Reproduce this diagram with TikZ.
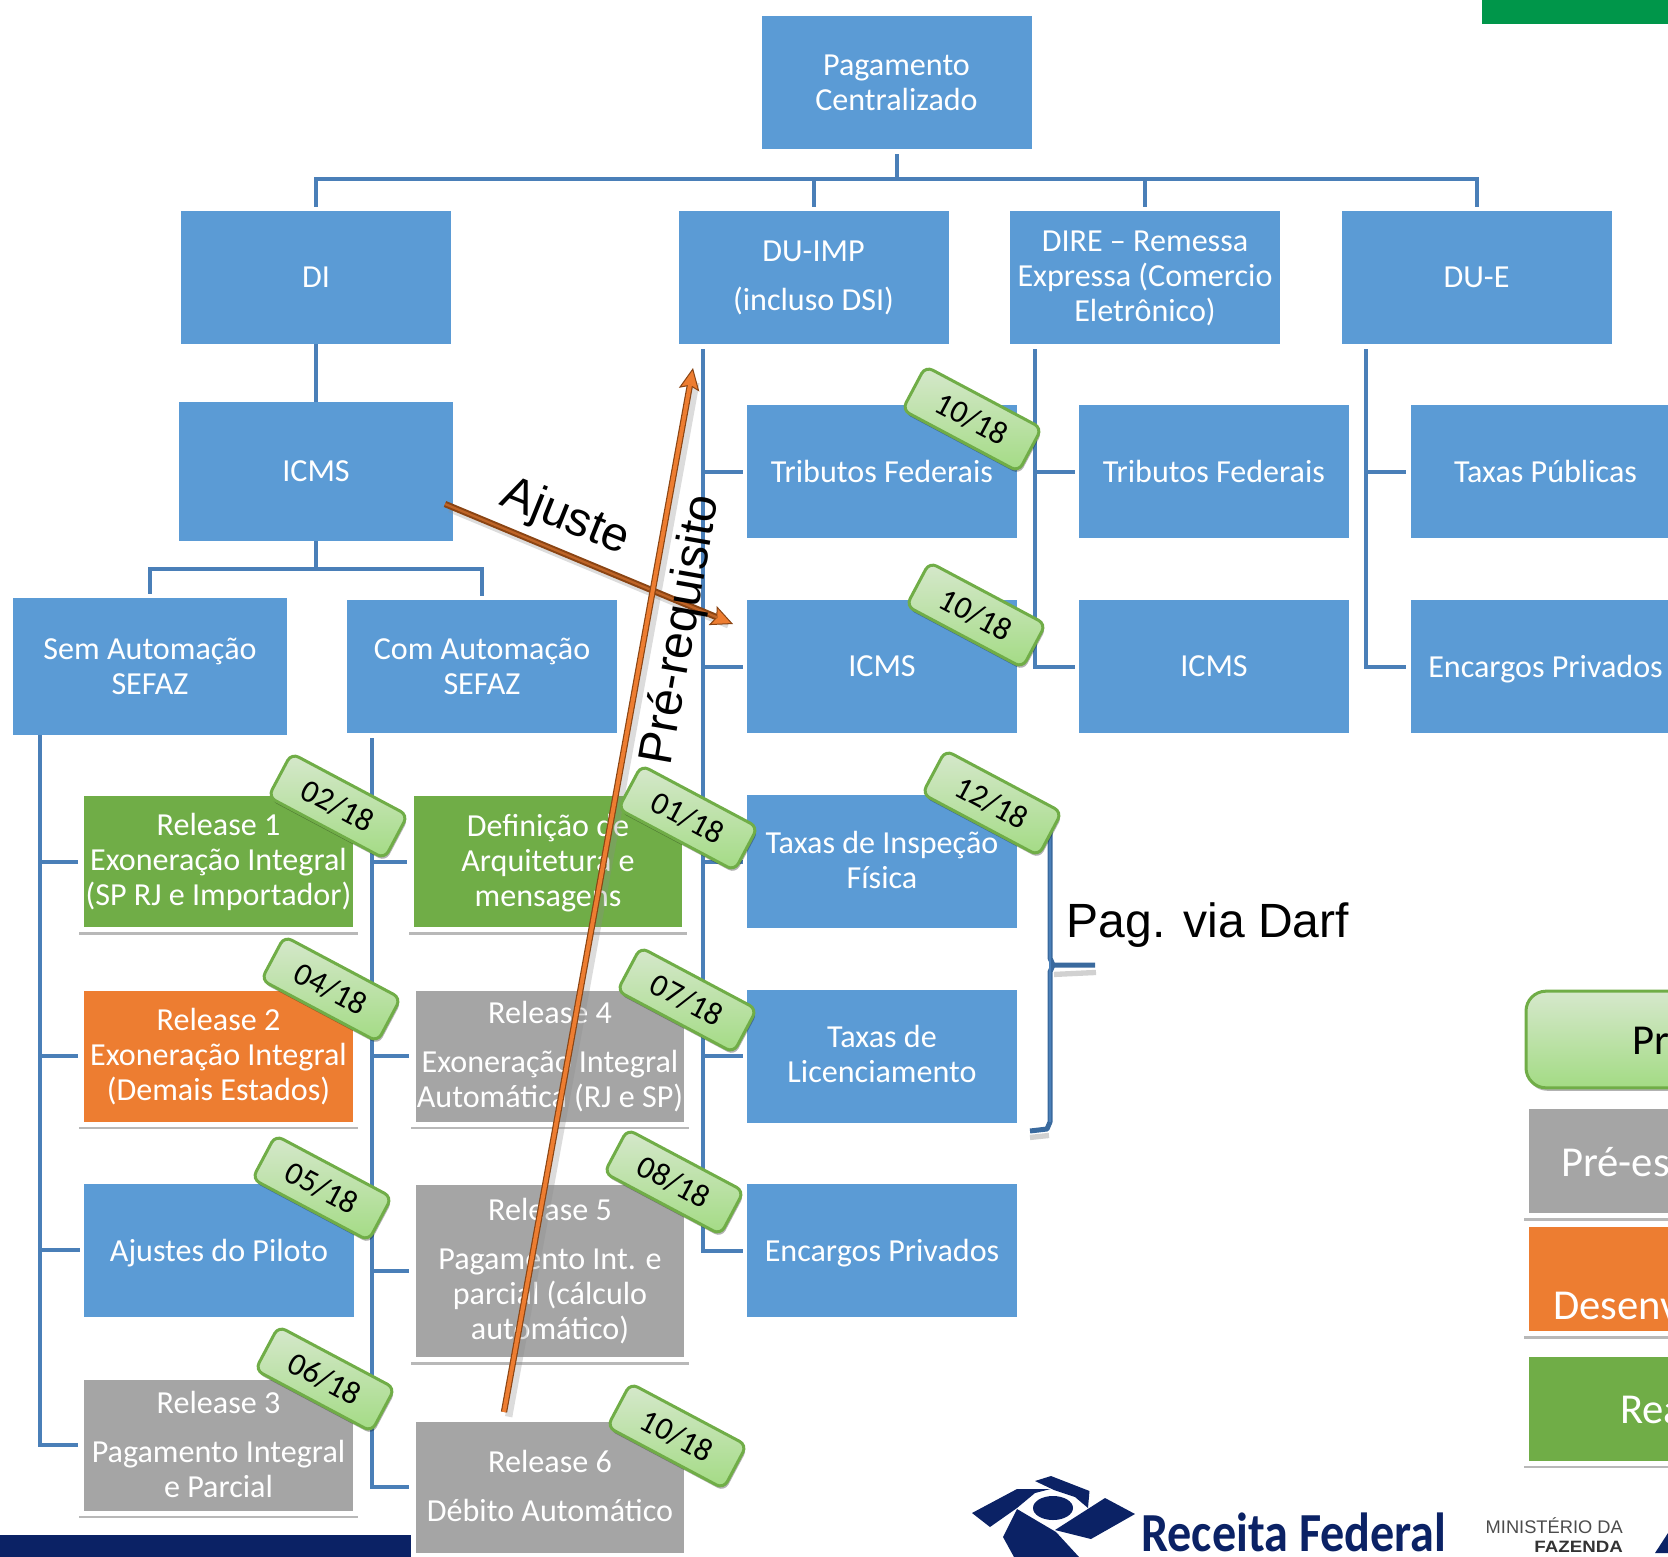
\documentclass[tikz,border=0pt]{standalone}
\usepackage{fontspec}
\setmainfont{Carlito}
\newfontfamily\arialfont{Liberation Sans}
\usetikzlibrary{arrows.meta,shadows}
\definecolor{azul}{HTML}{5B9BD5}
\definecolor{azulfio}{HTML}{4A7FB8}
\definecolor{azulescuro}{HTML}{3A6A9E}
\definecolor{verde}{HTML}{70AD47}
\definecolor{laranja}{HTML}{ED7D31}
\definecolor{cinza}{HTML}{A5A5A5}
\definecolor{marinho}{HTML}{0B2265}
\definecolor{verdebarra}{HTML}{00964A}
\definecolor{setafio}{HTML}{8A4413}
\definecolor{verdeclaro}{HTML}{D6E8CC}
\definecolor{verdemedio}{HTML}{A3DB84}
\tikzset{
  texto/.style={text=white,align=center,inner sep=0pt,font=\fontsize{27.4}{29.9}\selectfont},
  bloco/.style={texto,fill=azul,minimum width=8.1cm,minimum height=3.99cm},
  rel/.style={texto,fill=#1,draw=white,line width=.15cm,outer sep=0pt,minimum width=8.2cm,minimum height=4.08cm,
    drop shadow={shadow scale=1.018,shadow xshift=0pt,shadow yshift=-3.4pt,fill=black,opacity=.28}},
  legenda/.style={rel=#1,minimum width=6cm,minimum height=3.27cm},
  leg/.style={anchor=west,inner sep=0pt,text=white,font=\fontsize{36.4}{40}\selectfont},
  etiqueta/.style={rotate=-28,rounded corners=.24cm,draw=verde,line width=.09cm,top color=verdeclaro,bottom color=verdemedio,
    minimum width=3.95cm,minimum height=1.48cm,inner sep=0pt,font=\fontsize{27.4}{29.9}\selectfont,
    drop shadow={shadow xshift=1pt,shadow yshift=-2.5pt,fill=black,opacity=.3}},
  con/.style={draw=azulfio,line width=.12cm,shorten >=.12cm,shorten <=.15cm},
  liso/.style={draw=azulfio,line width=.12cm},
  seta/.style={line width=.19cm,draw=setafio,-{Stealth[length=.66cm,width=.62cm,inset=.12cm,line width=.03cm,fill=laranja]}},
  sombra/.style={line width=.22cm,draw=black!45,opacity=.3,shorten >=.3cm,transform canvas={shift={(4pt,-4pt)}}},
  rotulo/.style={inner sep=0pt,font=\arialfont\fontsize{41}{48}\selectfont},
}
\begin{document}
\begin{tikzpicture}[x=.03cm,y=-.03cm]
%
\useasboundingbox (0,0) rectangle (1668,1557);
\clip (0,0) rectangle (1668,1557);
%
\fill[verdebarra] (1482,0) rectangle (1668,24);
\fill[marinho] (0,1535) rectangle (420,1557);
%
\node[bloco] (p0) at (896.5,82.5) {Pagamento\\Centralizado};
\node[bloco] (d1) at (316,277.5) {DI};
\node[bloco,text depth=3pt] (d2) at (813.5,277.5) {DU-IMP\\[12pt](incluso DSI)};
\node[bloco,text depth=3pt] (d3) at (1145,277.5) {DIRE -- Remessa\\Expressa (Comercio\\Eletrônico)};
\node[bloco] (d4) at (1476.5,277.5) {DU-E};
%
\node[bloco,minimum width=8.22cm,minimum height=4.17cm] (i0) at (316,471.5) {ICMS};
\node[bloco,minimum width=8.22cm,minimum height=4.11cm] (s0) at (150,666.5) {Sem Automação\\SEFAZ};
\node[bloco] (c0) at (482,666.5) {Com Automação\\SEFAZ};
%
\node[bloco] (t1) at (882,471.5) {Tributos Federais};
\node[bloco] (t2) at (882,666.5) {ICMS};
\node[bloco,text depth=3.4pt] (t3) at (882,861.5) {Taxas de Inspeção\\Física};
\node[bloco,text depth=3.4pt] (t4) at (882,1056) {Taxas de\\Licenciamento};
\node[bloco,text depth=0pt] (t5) at (882,1250.5) {Encargos Privados};
%
\node[bloco] (u1) at (1214,471.5) {Tributos Federais};
\node[bloco] (u2) at (1214,666.5) {ICMS};
\node[bloco] (w1) at (1545.5,471.5) {Taxas Públicas};
\node[bloco,text depth=0pt] (w2) at (1545.5,666.5) {Encargos Privados};
%
\node[rel=verde,text depth=4pt] (r1) at (218.5,861.5) {Release 1\\Exoneração Integral\\(SP RJ e Importador)};
\node[rel=laranja,text depth=3pt] (r2) at (218.5,1056) {Release 2\\Exoneração Integral\\(Demais Estados)};
\node[bloco,text depth=0pt] (r0) at (219,1250) {Ajustes do Piloto};
\node[rel=cinza,text depth=1.7pt] (r3) at (218.5,1445) {Release 3\\[12pt]Pagamento Integral\\e Parcial};
\node[rel=verde,text depth=2pt] (q0) at (548,861.5) {Definição de\\Arquitetura e\\mensagens};
\node[rel=cinza,text depth=3pt] (r4) at (550,1056) {Release 4\\[12pt]Exoneração Integral\\Automática (RJ e SP)};
\node[rel=cinza,minimum height=5.3cm,text depth=3pt] (r5) at (550,1271) {Release 5\\[12pt]Pagamento Int. e\\parcial (cálculo\\automático)};
\node[rel=cinza,text depth=1.7pt] (r6) at (550,1487) {Release 6\\[12pt]Débito Automático};
%
\coordinate (b1) at (896.5,179);
\coordinate (b2) at (316,569);
\draw[con] (p0.south) -- (b1) -| (d1);
\draw[con] (p0.south) -- (b1) -| (d2);
\draw[con] (p0.south) -- (b1) -| (d3);
\draw[con] (p0.south) -- (b1) -| (d4);
\draw[liso] (d1) -- (i0);
\draw[con,shorten <=0pt] (i0.south) -- (b2) -| (s0);
\draw[con,shorten <=0pt] (i0.south) -- (b2) -| (c0);
%
\draw[con,shorten <=0pt] ([xshift=.83cm]s0.south west) |- (r1);
\draw[con,shorten <=0pt] ([xshift=.83cm]s0.south west) |- (r2);
\draw[con,shorten <=0pt] ([xshift=.83cm]s0.south west) |- (r0);
\draw[con,shorten <=0pt] ([xshift=.83cm]s0.south west) |- (r3);
\draw[con] ([xshift=.75cm]c0.south west) |- (q0);
\draw[con] ([xshift=.75cm]c0.south west) |- (r4);
\draw[con] ([xshift=.75cm]c0.south west) |- (r5);
\draw[con] ([xshift=.75cm]c0.south west) |- (r6);
%
\draw[con] ([xshift=.735cm]d2.south west) |- (t1);
\draw[con] ([xshift=.735cm]d2.south west) |- (t2);
\draw[con] ([xshift=.735cm]d2.south west) |- (t3);
\draw[con] ([xshift=.735cm]d2.south west) |- (t4);
\draw[con] ([xshift=.735cm]d2.south west) |- (t5);
\draw[con] ([xshift=.75cm]d3.south west) |- (u1);
\draw[con] ([xshift=.75cm]d3.south west) |- (u2);
\draw[con] ([xshift=.75cm]d4.south west) |- (w1);
\draw[con] ([xshift=.75cm]d4.south west) |- (w2);
%
\draw[draw=black,opacity=.18,line width=.16cm,transform canvas={shift={(0pt,-5.5pt)}}]
  (1054,968) -- (1096,966) (1030,1131) -- (1049,1129);
\draw[draw=azulescuro,line width=.15cm,line join=round]
  (1050,822) -- (1050,958) -- (1053,965) -- (1095,965)
  (1053,965) -- (1050,972) -- (1050,1122) -- (1047,1129) -- (1030,1131);
\draw[draw=azulfio,line width=.07cm,line join=round] (1050,822) -- (1050,1122);
\node[rotulo,anchor=center] (n3) at (1208,925) {Pag. via Darf};
%
\node[legenda=cinza] (l2) at (1626,1161) {};
\node[legenda=laranja] (l3) at (1626,1279) {};
\node[legenda=verde] (l4) at (1626,1408.5) {};
\node[rounded corners=.6cm,draw=verde,line width=.09cm,top color=verdeclaro,bottom color=verdemedio,
  minimum width=6cm,minimum height=2.9cm,drop shadow={shadow xshift=1pt,shadow yshift=-2.5pt,fill=black,opacity=.3}] (l1) at (1626,1039.5) {};
\node[leg,text=black] (x1) at (1632,1041) {Pr};
\node[leg] (x2) at (1561,1162) {Pré-es};
\node[leg] (x3) at (1553,1306) {Desenv};
\node[leg] (x4) at (1620,1410) {Rea};
%
\coordinate (a1) at (445,504);
\coordinate (a2) at (733,624);
\coordinate (a3) at (504,1412);
\coordinate (a4) at (693,368);
\draw[sombra] (a1) -- (a2);
\draw[sombra] (a3) -- (a4);
\draw[seta] (a1) -- (a2);
\draw[draw=laranja!80!black,line width=.07cm,shorten >=.5cm] (a1) -- (a2);
\draw[seta] (a3) -- (a4);
\draw[draw=laranja,line width=.12cm,shorten >=.5cm] (a3) -- (a4);
%
\node[rotulo,rotate=-22] (n1) at (565,518) {Ajuste};
\node[rotulo,rotate=80] (n2) at (682,630) {Pré-requisito};
%
\node[etiqueta] (e1) at (338,806) {02/18};
\node[etiqueta] (e2) at (331,989) {04/18};
\node[etiqueta] (e3) at (322,1188) {05/18};
\node[etiqueta] (e4) at (325,1379) {06/18};
\node[etiqueta] (e5) at (688,818) {01/18};
\node[etiqueta] (e6) at (687,1000) {07/18};
\node[etiqueta] (e7) at (674,1182) {08/18};
\node[etiqueta] (e8) at (677,1436) {10/18};
\node[etiqueta] (e9) at (972,419) {10/18};
\node[etiqueta] (e10) at (976,615) {10/18};
\node[etiqueta] (e11) at (992,803) {12/18};
%
\fill[marinho] (1035,1481) -- (1051,1476) -- (1089.5,1491) -- (1088,1508) -- (1075,1497) -- (1054,1490) -- cycle;
\fill[marinho] (972,1513) -- (1017,1489) -- (1050.5,1489) -- (1035,1493) -- (1017,1508) -- (990,1527) -- cycle;
\fill[marinho] (1017,1509) -- (1056,1532) -- (1079,1557) -- (1014,1557) -- (1003,1537) -- cycle;
\fill[marinho] (1105,1498) -- (1135,1514) -- (1091,1539) -- (1055,1530) -- cycle;
\fill[marinho] (1053,1508) ellipse (20 and 12);
\node[anchor=west,inner sep=0pt,text=marinho,font=\bfseries\fontsize{47}{50}\selectfont] (m1) at (1141,1532) {\scalebox{.875}[1]{Receita Federal}};
\node[anchor=east,inner sep=0pt,text=black!70,font=\arialfont\fontsize{15.6}{18}\selectfont] (m2) at (1623,1526) {MINISTÉRIO DA};
\node[anchor=east,inner sep=0pt,text=black!80,font=\arialfont\bfseries\fontsize{14}{16}\selectfont] (m3) at (1623,1547) {\scalebox{1.14}[1]{FAZENDA}};
\fill[marinho] (1655,1553) -- (1668,1533) -- (1668,1553) -- cycle;
%
\end{tikzpicture}
\end{document}
